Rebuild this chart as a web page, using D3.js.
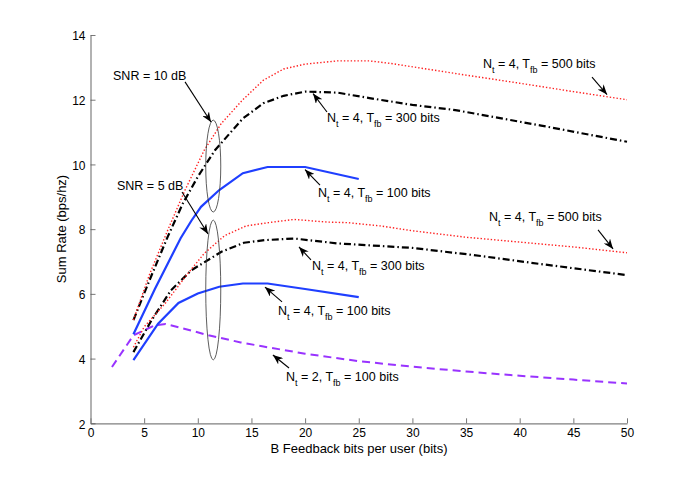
<!DOCTYPE html>
<html>
<head>
<meta charset="utf-8">
<script src="https://d3js.org/d3.v7.min.js"></script>
<style>
  body { margin: 0; background: #fff; }
  text { font-family: "Liberation Sans", Arial, sans-serif; }
</style>
</head>
<body>
<svg id="chart" width="692" height="477"></svg>
<script>
// values: B (bits per user) and sum rate (bps/hz)
const red10 = [[4,5.19],[5.5,6.6],[7.2,7.97],[8.8,9.2],[10.6,10.44],[12.2,11.27],[14.2,12.0],[16.1,12.6],[18,12.95],[20,13.1],[23,13.2],[26,13.2],[28,13.12],[35,12.76],[40,12.51],[45,12.25],[50,12.0]];
const black10 = [[4,5.19],[5.5,6.42],[7.2,7.77],[8.6,8.79],[10,9.62],[11.6,10.44],[14.2,11.42],[16.1,11.89],[18,12.12],[20,12.25],[23,12.22],[26,12.05],[30,11.84],[34,11.68],[42,11.2],[50,10.7]];
const blue10 = [[4,4.75],[6,6.15],[8.4,7.72],[9.4,8.26],[10.3,8.69],[12,9.21],[14.2,9.73],[16.5,9.92],[20,9.92],[25,9.55]];
const red5 = [[4,4.35],[5,4.98],[7,5.72],[9,6.6],[10.6,7.25],[12.5,7.8],[14.5,8.1],[17,8.22],[19,8.3],[22,8.22],[24,8.2],[27,8.1],[30,7.95],[35,7.75],[40,7.6],[45,7.45],[50,7.27]];
const black5 = [[4,4.2],[5.7,5.19],[7.5,6.11],[9.4,6.73],[12.2,7.3],[14.3,7.58],[16.2,7.66],[19,7.71],[23,7.56],[30,7.42],[35.7,7.2],[42,6.92],[50,6.58]];
const blue5 = [[4,3.95],[6.3,5.08],[8.2,5.72],[10,6.01],[12,6.22],[14.2,6.32],[16.5,6.32],[20,6.15],[25,5.9]];
const purple2 = [[2,3.74],[4,4.72],[6,5.03],[7,5.07],[9,4.9],[11,4.72],[14,4.5],[16,4.38],[20,4.15],[25,3.92],[30,3.75],[35,3.6],[40,3.47],[45,3.35],[50,3.23]];

const xTicks = [0,5,10,15,20,25,30,35,40,45,50];
const yTicks = [2,4,6,8,10,12,14];

// text labels with arrows, in data units: text anchor, arrow tail, arrow head
const notes = [
  {parts: [["SNR = 10 dB"]], tx: 2.1, ty: 12.62, ax: [8.81,12.55], ah: [11.23,11.31]},
  {parts: [["SNR = 5 dB"]], tx: 2.47, ty: 9.2, ax: [8.53,9.15], ah: [10.95,7.85]},
  {parts: [["N"],["t","sub"],[" = 4, T"],["fb","sub"],[" = 500 bits"]], tx: 36.57, ty: 12.98, ax: [46.74,12.70], ah: [48.14,12.16]},
  {parts: [["N"],["t","sub"],[" = 4, T"],["fb","sub"],[" = 300 bits"]], tx: 22.04, ty: 11.31, ax: [22.04,11.62], ah: [20.74,12.19]},
  {parts: [["N"],["t","sub"],[" = 4, T"],["fb","sub"],[" = 100 bits"]], tx: 21.2, ty: 8.99, ax: [21.39,9.36], ah: [19.99,9.84]},
  {parts: [["N"],["t","sub"],[" = 4, T"],["fb","sub"],[" = 500 bits"]], tx: 37.14, ty: 8.24, ax: [47.3,7.98], ah: [48.7,7.39]},
  {parts: [["N"],["t","sub"],[" = 4, T"],["fb","sub"],[" = 300 bits"]], tx: 20.64, ty: 6.74, ax: [20.55,7.05], ah: [19.43,7.45]},
  {parts: [["N"],["t","sub"],[" = 4, T"],["fb","sub"],[" = 100 bits"]], tx: 17.47, ty: 5.36, ax: [17.85,5.75], ah: [16.26,6.21]},
  {parts: [["N"],["t","sub"],[" = 2, T"],["fb","sub"],[" = 100 bits"]], tx: 18.22, ty: 3.32, ax: [18.5,3.71], ah: [17.0,4.11]}
];
// ellipses grouping the curves of one SNR: center and radii in data units
const rings = [
  {cx: 11.44, cy: 9.95, rx: 0.7, ry: 1.42},
  {cx: 11.44, cy: 6.12, rx: 0.7, ry: 2.16}
];

const svg = d3.select("#chart");
const xs = d3.scaleLinear().domain([0,50]).range([90.5,627]);
const ys = d3.scaleLinear().domain([2,14]).range([423.3,35]);

svg.append("defs").append("marker")
  .attr("id","head")
  .attr("viewBox","0 0 10 8")
  .attr("refX",10).attr("refY",4)
  .attr("markerWidth",10).attr("markerHeight",8)
  .attr("markerUnits","userSpaceOnUse")
  .attr("orient","auto")
  .append("path")
  .attr("d","M0,0 L10,4 L0,8 L3,4 Z")
  .attr("fill","black");

// axes (left and bottom only, ticks pointing inward)
const xAxis = d3.axisBottom(xs).tickValues(xTicks).tickSizeInner(-5).tickSizeOuter(0).tickPadding(5);
const yAxis = d3.axisLeft(ys).tickValues(yTicks).tickSizeInner(-5).tickSizeOuter(0).tickPadding(5);

const gx = svg.append("g").attr("transform","translate(0,423.3)").call(xAxis);
const gy = svg.append("g").attr("transform","translate(90.5,0)").call(yAxis);
[gx, gy].forEach(g => {
  g.select(".domain").attr("stroke","#7f7f7f").attr("stroke-width",1.2);
  g.selectAll(".tick line").attr("stroke","#555").attr("stroke-width",0.8);
  g.selectAll(".tick text").attr("fill","#000").style("font-size","12px")
    .style("font-family","'Liberation Sans', Arial, sans-serif");
});
gy.selectAll(".tick text").attr("dy","0.4em");

svg.append("text")
  .attr("x",359).attr("y",453)
  .attr("text-anchor","middle")
  .style("font-size","13px")
  .text("B Feedback bits per user (bits)");
svg.append("text")
  .attr("transform","translate(66,229) rotate(-90)")
  .attr("text-anchor","middle")
  .style("font-size","13px")
  .text("Sum Rate (bps/hz)");

// curves
const line = d3.line().x(d => xs(d[0])).y(d => ys(d[1]));
const series = [
  {data: purple2, color: "#9933ff", width: 2, dash: "8,5"},
  {data: blue5, color: "#1f3fff", width: 2.2, dash: null},
  {data: black5, color: "#000", width: 2.2, dash: "7,3,1.5,3"},
  {data: red5, color: "#ff2020", width: 1.4, dash: "1.4,2"},
  {data: blue10, color: "#1f3fff", width: 2.2, dash: null},
  {data: black10, color: "#000", width: 2.2, dash: "7,3,1.5,3"},
  {data: red10, color: "#ff2020", width: 1.4, dash: "1.4,2"}
];
svg.selectAll("path.curve")
  .data(series)
  .enter()
  .append("path")
  .attr("class","curve")
  .attr("d", d => line(d.data))
  .attr("fill","none")
  .attr("stroke", d => d.color)
  .attr("stroke-width", d => d.width)
  .attr("stroke-dasharray", d => d.dash);

// ellipses
svg.selectAll("ellipse")
  .data(rings)
  .enter()
  .append("ellipse")
  .attr("cx", d => xs(d.cx))
  .attr("cy", d => ys(d.cy))
  .attr("rx", d => xs(d.rx) - xs(0))
  .attr("ry", d => ys(0) - ys(d.ry))
  .attr("fill","none")
  .attr("stroke","#333")
  .attr("stroke-width",0.8);

// arrows and labels
svg.selectAll("line.arrow")
  .data(notes)
  .enter()
  .append("line")
  .attr("class","arrow")
  .attr("x1", d => xs(d.ax[0])).attr("y1", d => ys(d.ax[1]))
  .attr("x2", d => xs(d.ah[0])).attr("y2", d => ys(d.ah[1]))
  .attr("stroke","black")
  .attr("stroke-width",1.1)
  .attr("marker-end","url(#head)");

notes.forEach(n => {
  const t = svg.append("text")
    .attr("x", xs(n.tx)).attr("y", ys(n.ty))
    .style("font-size","12.5px");
  n.parts.forEach(p => {
    if (p[1] === "sub") {
      t.append("tspan").attr("dy",5).style("font-size","9px").text(p[0]);
    } else {
      const s = t.append("tspan").text(p[0]);
      if (t.selectAll("tspan").size() > 1) s.attr("dy",-5);
    }
  });
});
</script>
</body>
</html>
